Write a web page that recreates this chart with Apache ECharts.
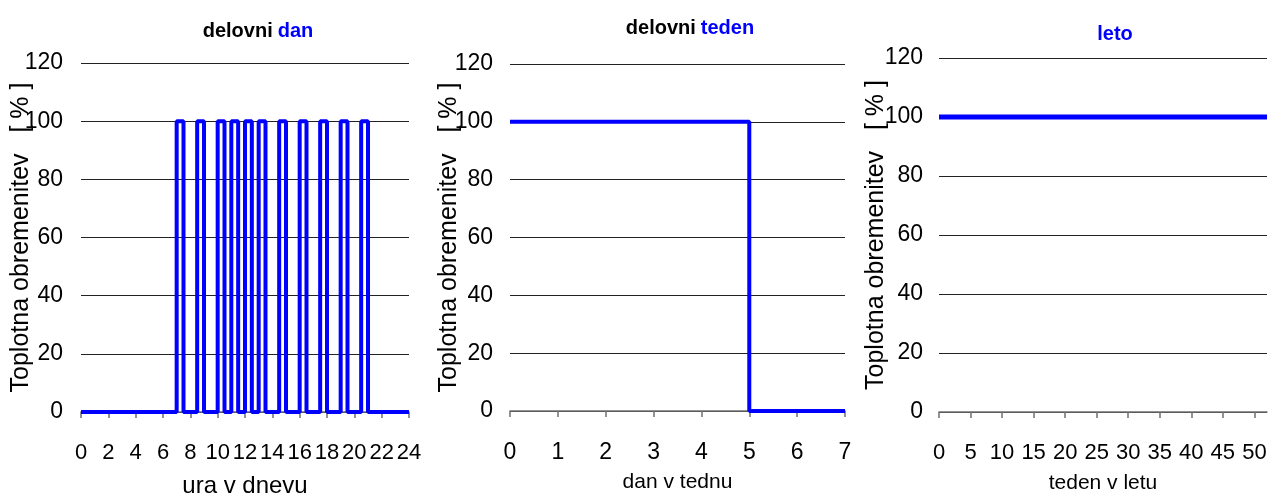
<!DOCTYPE html>
<html><head><meta charset="utf-8">
<script src="https://cdn.jsdelivr.net/npm/echarts@6/dist/echarts.min.js"></script>
<style>html,body{margin:0;padding:0;background:#fff}#c{width:1270px;height:499px}</style>
</head><body><div id="c"></div>
<script>
// Chart 1: working day (hour of day, step changes)
const dayTimes = [0, 7, 7.5, 8.5, 9, 10, 10.5, 11, 11.5, 12, 12.5, 13, 13.5, 14.5, 15, 16, 16.5, 17.5, 18, 19, 19.5, 20.5, 21, 24];
const dayLoad  = [0, 100, 0, 100, 0, 100, 0, 100, 0, 100, 0, 100, 0, 100, 0, 100, 0, 100, 0, 100, 0, 100, 0, 0];
// Chart 2: working week
const weekDays = [0, 5, 7];
const weekLoad = [100, 0, 0];
// Chart 3: year
const yearWeeks = [0, 52];
const yearLoad  = [100, 100];
// Texts
const titles = [['delovni', 'dan'], ['delovni', 'teden'], ['', 'leto']];
const xNames = ['ura v dnevu', 'dan v tednu', 'teden v letu'];
const yName = 'Toplotna obremenitev   [ % ]';

const FONT = '"Liberation Sans Narrow", "Arial Narrow", "Liberation Sans", Arial, sans-serif';
const pairs = (xs, ys) => xs.map((x, i) => [x, ys[i]]);

const grids = [
  {left: 81, right: 861, top: 63, bottom: 87, outerBoundsMode: 'none'},
  {left: 510, right: 425, top: 64, bottom: 88, outerBoundsMode: 'none'},
  {left: 939, right: 3, top: 58, bottom: 87, outerBoundsMode: 'none'}
];
const xCfg = [
  {min: 0, max: 24, interval: 2, nameSize: 24, nameGap: 62, labelSize: 22},
  {min: 0, max: 7, interval: 1, nameSize: 21, nameGap: 61, labelSize: 23},
  {min: 0, max: 52, interval: 5, nameSize: 21, nameGap: 61, labelSize: 22}
];
const titlePos = [{x: 253, y: 16}, {x: 685, y: 13}, {x: 1110, y: 19}];
const nameGapY = [47, 48, 50];
const labelMarginY = [18, 17, 16];

const option = {
  animation: false,
  title: titles.map((t, i) => ({
    left: titlePos[i].x, top: titlePos[i].y, textAlign: 'center',
    text: t[0] ? '{a|' + t[0] + '} {b|' + t[1] + '}' : '{b|' + t[1] + '}',
    textStyle: {rich: {
      a: {fontFamily: FONT, fontWeight: 'bold', fontSize: 20, color: '#000'},
      b: {fontFamily: FONT, fontWeight: 'bold', fontSize: 20, color: '#0000ff'}
    }}
  })),
  grid: grids,
  xAxis: xCfg.map((c, i) => ({
    type: 'value', gridIndex: i, min: c.min, max: c.max, interval: c.interval,
    name: xNames[i], nameLocation: 'middle', nameGap: c.nameGap, nameMoveOverlap: false,
    nameTextStyle: {fontFamily: FONT, fontSize: c.nameSize, color: '#000'},
    axisLine: {show: true, onZero: false, lineStyle: {color: '#707070', width: 1.5}},
    axisTick: {show: true, length: 6, lineStyle: {color: '#707070', width: 1.5}},
    axisLabel: {fontFamily: FONT, fontSize: c.labelSize, color: '#000', margin: 30, showMaxLabel: i !== 2, hideOverlap: false},
    splitLine: {show: false}
  })),
  yAxis: grids.map((g, i) => ({
    type: 'value', gridIndex: i, min: 0, max: 120, interval: 20,
    name: yName, nameLocation: 'middle', nameRotate: 90, nameGap: nameGapY[i], nameMoveOverlap: false,
    nameTextStyle: {fontFamily: FONT, fontSize: 25, color: '#000'},
    axisLine: {show: false}, axisTick: {show: false},
    axisLabel: {fontFamily: FONT, fontSize: 23, color: '#000', margin: labelMarginY[i]},
    splitLine: {show: true, lineStyle: {color: '#222', width: 1}}
  })),
  series: [
    {type: 'line', xAxisIndex: 0, yAxisIndex: 0, step: 'end', data: pairs(dayTimes, dayLoad),
     showSymbol: false, clip: false, lineStyle: {color: '#0000ff', width: 4}},
    {type: 'line', xAxisIndex: 1, yAxisIndex: 1, step: 'end', data: pairs(weekDays, weekLoad),
     showSymbol: false, clip: false, lineStyle: {color: '#0000ff', width: 4}},
    {type: 'line', xAxisIndex: 2, yAxisIndex: 2, data: pairs(yearWeeks, yearLoad),
     showSymbol: false, clip: false, lineStyle: {color: '#0000ff', width: 5}}
  ]
};
const chart = echarts.init(document.getElementById('c'), null, {renderer: 'canvas'});
chart.setOption(option);
</script></body></html>
